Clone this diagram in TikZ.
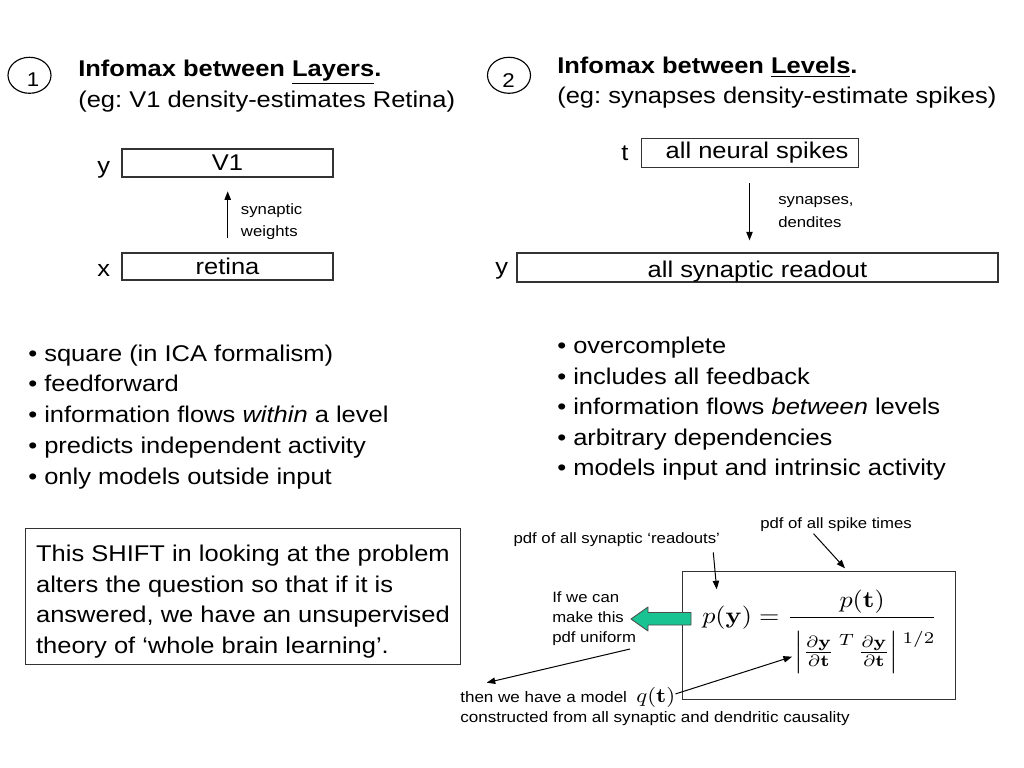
\documentclass[tikz,border=0pt]{standalone}
\usepackage[no-math]{fontspec}
\setmainfont{Liberation Sans}[FakeStretch=1.12]
\usepackage{graphicx}
\usetikzlibrary{arrows.meta,shapes.geometric,calc}
\newcommand\bodyf{\fontsize{16}{21.4}\selectfont}
\newcommand\smallf{\fontsize{10.5}{12.6}\selectfont}
\newcommand\numf{\fontsize{14}{16}\selectfont}
\definecolor{mint}{RGB}{26,196,146}
\frenchspacing
\begin{document}
\begin{tikzpicture}[x=0.703125pt,y=-0.703125pt,
  txt/.style={inner sep=0,anchor=base west,font=\bodyf},
  btxt/.style={inner sep=0,anchor=base west,font=\bodyf\bfseries},
  lbl/.style={inner sep=0,anchor=base west,font=\smallf},
  box/.style={draw=black!80,line width=0.9pt,inner sep=0,font=\bodyf},
  arr/.style={-{Triangle[length=6pt,width=4.5pt]},line width=0.7pt},
  ell/.style={draw,ellipse,line width=0.8pt,inner sep=0,
    minimum width=43*0.703125pt,minimum height=36*0.703125pt},
  num/.style={inner sep=0,anchor=base,font=\numf}]
\useasboundingbox[fill=white] (0,0) rectangle (1024,768);

% ---- panel 1
\node[ell] (c1) at (29.5,75.3) {};
\node[num] (n1) at (33,86.5) {1};
\node[btxt] (h1) at (78,77) {Infomax between \underline{Layers}.};
\node[txt] (h1b) at (78,108) {(eg: V1 density-estimates Retina)};

\node[box,minimum width=211*0.703125pt,minimum height=28*0.703125pt] (v1) at (227.5,163) {V1};
\node[txt] (ly) at (97,174) {y};
\node[box,minimum width=211*0.703125pt,minimum height=27*0.703125pt] (ret) at (227.5,266.5) {retina};
\node[txt] (lx) at (97,277) {x};
\draw[arr] ($(ret.north)+(0.2,-14.7)$) -- ($(v1.south)+(0.2,13.7)$);
\node[lbl] (sw1) at (240.7,214.5) {synaptic};
\node[lbl] (sw2) at (240.7,236.5) {weights};

% ---- panel 2
\node[ell] (c2) at (509,75.3) {};
\node[num] (n2) at (508.5,87.5) {2};
\node[btxt] (h2) at (557,74) {Infomax between \underline{Levels}.};
\node[txt] (h2b) at (557,104) {(eg: synapses density-estimate spikes)};

\node[box,minimum width=217*0.703125pt,minimum height=29*0.703125pt] (sp) at (750,153) {\hspace*{10pt}all neural spikes};
\node[txt] (lt) at (621,161) {t};
\node[box,minimum width=481*0.703125pt,minimum height=29*0.703125pt] (ro) at (757.5,267.5)
  {\smash{\raisebox{-7pt}{all synaptic readout}}};
\node[txt] (ly2) at (495,275) {y};
\draw[arr] ($(sp.south)+(-0.5,15)$) -- ($(ro.north)+(-8,-12)$);
\node[lbl] (sd1) at (778,205) {synapses,};
\node[lbl] (sd2) at (778,228) {dendites};

% ---- bullets
\foreach \t [count=\i from 0] in {%
  {• square (in ICA formalism)},
  {• feedforward},
  {• information flows \textit{within} a level},
  {• predicts independent activity},
  {• only models outside input}}
  \node[txt] (lb\i) at (28,361+30.9*\i) {\t};
\foreach \t [count=\i from 0] in {%
  {• overcomplete},
  {• includes all feedback},
  {• information flows \textit{between} levels},
  {• arbitrary dependencies},
  {• models input and intrinsic activity}}
  \node[txt] (rb\i) at (557,353.5+30.6*\i) {\t};

% ---- shift box
\node[draw=black!80,line width=0.9pt,font=\bodyf,inner sep=0,
  minimum width=435*0.703125pt,minimum height=136*0.703125pt] (shift) at (243,596.5)
  {\raisebox{0pt}[\dimexpr\height+7pt\relax][\depth]{\begin{tabular}{@{}l@{}}This SHIFT in looking at the problem\\alters the question so that if it is\\answered, we have an unsupervised\\theory of ‘whole brain learning’.\end{tabular}}};

% ---- equation
\node[draw=black!80,line width=0.9pt,inner sep=0,minimum width=273*0.703125pt,
  minimum height=128*0.703125pt] (eqbox) at (819,635.85) {};
\node[inner sep=0,anchor=base west] (eq) at (702,623.5)
  {\scalebox{1.837}[1.64]{$\displaystyle p(\mathbf{y}) = \frac{p(\mathbf{t})}{\rule{0pt}{16pt}\left|\frac{\partial\mathbf{y}}{\partial\mathbf{t}}\,\raisebox{5.4pt}{$\scriptstyle T$}\,\frac{\partial\mathbf{y}}{\partial\mathbf{t}}\right|\raisebox{6.4pt}{$\scriptstyle 1/2$}}$}};

\node[lbl] (pr) at (513.3,543) {pdf of all synaptic ‘readouts’};
\node[lbl] (ps) at (760,528) {pdf of all spike times};
\coordinate (tipy) at (716.7,589.3);
\coordinate (tipt) at (845,568.3);
\draw[arr] ($(pr.south east)+(-7,6)$) -- (tipy);
\draw[arr] ($(ps.south)+(-22.5,2.3)$) -- (tipt);

% green arrow
\draw[draw=black!70,fill=mint,line width=0.6pt,line join=round]
  (691,612.5) -- (648,612.5) -- (648,607) -- (631,619) -- (648,631)
  -- (648,625) -- (691,625) -- cycle;
\node[lbl] (ifa) at (552,602) {If we can};
\node[lbl] (ifb) at (552,622) {make this};
\node[lbl] (ifc) at (552,642) {pdf uniform};
\coordinate (u1) at (630,649);
\coordinate (u2) at (486.7,682.7);
\draw[arr] (u1) -- (u2);

\node[lbl,font=\fontsize{10.7}{12.8}\selectfont] (tw) at (460,702) {then we have a model};
\node[inner sep=0,anchor=base west] (qt) at (636,702)
  {\scalebox{1.6}[1.42]{$q(\mathbf{t})$}};
\node[lbl,font=\fontsize{10.7}{12.8}\selectfont] (cf) at (460,722.5) {constructed from all synaptic and dendritic causality};
\coordinate (tipd) at (792,656.7);
\draw[arr] ($(qt.east)+(0,-3)$) -- (tipd);
\end{tikzpicture}
\end{document}
